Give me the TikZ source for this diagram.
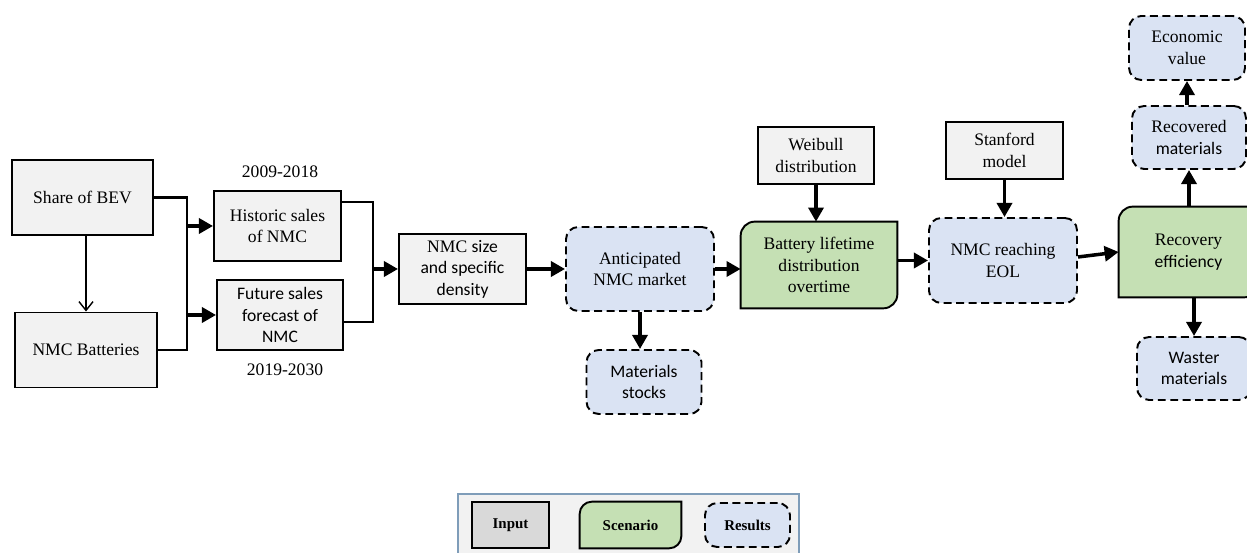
\documentclass[tikz,border=0pt]{standalone}
\usepackage{fontspec}
\setmainfont{Liberation Serif}
\newfontfamily\calibri{Carlito}
\usepackage{tikz}
\usetikzlibrary{calc, arrows.meta, backgrounds}

\definecolor{inputgray}{HTML}{F2F2F2}
\definecolor{legendgray}{HTML}{D9D9D9}
\definecolor{scengreen}{HTML}{C5E0B4}
\definecolor{resblue}{HTML}{DAE3F3}
\definecolor{framegray}{HTML}{7F9DB9}

\tikzset{
  base/.style={align=center, inner sep=1pt, font=\fontsize{10}{12.3}\selectfont},
  inbox/.style={base, draw, line width=1.1pt, fill=inputgray},
  resbox/.style={base, draw, line width=1.1pt, dash pattern=on 4.5pt off 2.6pt, rounded corners=7pt, fill=resblue},
  scenbox/.style={base},
  flow/.style={line width=2pt, -{Triangle[length=8pt, width=8.5pt]}},
  bus/.style={line width=1.2pt}
}

% scenario box: rounded top left and bottom right only
\newcommand{\scenshape}[2][8pt]{%
  \begin{scope}[on background layer]
    \draw[line width=1.1pt, fill=scengreen]
      (#2.south west) -- ($(#2.north west)+(0,-#1)$)
      arc[start angle=180, end angle=90, radius=#1] -- (#2.north east)
      -- ($(#2.south east)+(0,#1)$)
      arc[start angle=0, end angle=-90, radius=#1] -- cycle;
  \end{scope}}

\begin{document}
\begin{tikzpicture}[>=Latex]
    \useasboundingbox (0,0) rectangle (24.94,11.06);
    \clip (0,0) rectangle (24.94,11.06);

    % --- INPUTS (LEFT) ---
    \node[inbox, minimum width=2.82cm, minimum height=1.5cm] (bev) at (1.65,7.11) {Share of BEV};
    \node[inbox, minimum width=2.84cm, minimum height=1.5cm] (nmcbat) at (1.72,4.06) {NMC Batteries};
    \node[inbox, minimum width=2.54cm, minimum height=1.4cm] (hist) at (5.55,6.54) {Historic sales\\of NMC};
    \node[inbox, minimum width=2.52cm, minimum height=1.4cm, font=\calibri\fontsize{10}{12.3}\selectfont] (fut) at (5.60,4.76) {Future sales\\forecast of\\NMC};
    \node[base] (yrold) at (5.60,7.62) {2009-2018};
    \node[base] (yrnew) at (5.70,3.66) {2019-2030};
    \node[inbox, minimum width=2.54cm, minimum height=1.4cm] (size) at (9.25,5.68) {NMC {\calibri size}\\{\calibri and specific}\\{\calibri density}};

    % --- MARKET AND LIFETIME ---
    \node[resbox, minimum width=2.96cm, minimum height=1.68cm] (antic) at (12.80,5.68) {Anticipated\\NMC market};
    \node[resbox, minimum width=2.30cm, minimum height=1.28cm, font=\calibri\fontsize{10}{12.3}\selectfont] (stocks) at (12.88,3.42) {Materials\\stocks};
    \node[inbox, minimum width=2.32cm, minimum height=1.14cm] (weib) at (16.32,7.95) {Weibull\\distribution};
    \node[scenbox, minimum width=3.12cm, minimum height=1.72cm] (life) at (16.38,5.76) {Battery lifetime\\distribution\\overtime};
    \scenshape{life}

    % --- END OF LIFE (RIGHT) ---
    \node[inbox, minimum width=2.34cm, minimum height=1.14cm] (stan) at (20.09,8.05) {Stanford\\model};
    \node[resbox, minimum width=2.96cm, minimum height=1.70cm] (eol) at (20.06,5.85) {NMC reaching\\EOL};
    \node[scenbox, minimum width=2.78cm, minimum height=1.80cm] (recov) at (23.77,6.02) {Recovery\\{\calibri efficiency}};
    \scenshape{recov}
    \node[resbox, minimum width=2.28cm, minimum height=1.26cm] (recd) at (23.78,8.31) {Recovered\\{\calibri materials}};
    \node[resbox, minimum width=2.32cm, minimum height=1.28cm] (econ) at (23.74,10.10) {Economic\\value};
    \node[resbox, minimum width=2.28cm, minimum height=1.26cm, font=\calibri\fontsize{10}{12.3}\selectfont] (waste) at (23.88,3.69) {Waster\\materials};

    % --- CONNECTORS ---
    % bus from the two inputs
    \coordinate (busL) at (3.74,0);
    \draw[bus] (bev.east) -| (busL |- nmcbat.east) -- (nmcbat.east);
    \draw[flow] (busL |- hist.west) -- (hist.west);
    \draw[flow] (busL |- fut.west) -- (fut.west);
    \draw[line width=0.8pt, -{Straight Barb[length=5pt, width=8pt]}] (nmcbat.north |- bev.south) -- (nmcbat.north);

    % bus from the sales boxes
    \coordinate (busR) at (7.46,0);
    \coordinate (histout) at ($(hist.north east)!0.17!(hist.south east)$);
    \coordinate (futout) at ($(fut.north east)!0.6!(fut.south east)$);
    \draw[bus] (histout) -| (busR |- futout) -- (futout);
    \draw[flow] (busR |- size.west) -- (size.west);

    % main chain
    \draw[flow] (size.east) -- (size.east -| antic.west);
    \draw[flow] (antic.east) -- (antic.east -| life.west);
    \draw[flow] (antic.south) -- (antic.south |- stocks.north);
    \draw[flow] (weib.south) -- (weib.south |- life.north);
    \draw[flow] (eol.west -| life.east) -- (eol.west);
    \draw[flow] (stan.south) -- (stan.south |- eol.north);
    \draw[flow] ([yshift=2pt]eol.east) -- (recov.west);
    \draw[flow] (recov.north -| recd.south) -- (recd.south);
    \draw[flow] (recd.north -| econ.south) -- (econ.south);
    \draw[flow] (recov.south -| waste.north) -- (waste.north);

    % --- LEGEND ---
    \begin{scope}[on background layer]
      \draw[framegray, line width=1pt, fill=inputgray] (9.16,-0.3) rectangle (15.98,1.18);
    \end{scope}
    \node[inbox, fill=legendgray, minimum width=1.54cm, minimum height=0.92cm, font=\bfseries\fontsize{8.5}{10}\selectfont] (leginput) at (10.21,0.56) {Input};
    \node[scenbox, minimum width=2.02cm, minimum height=0.92cm, font=\bfseries\fontsize{8.5}{10}\selectfont] (legscen) at (12.61,0.56) {Scenario};
    \scenshape[7pt]{legscen}
    \node[resbox, minimum width=1.70cm, minimum height=0.88cm, font=\bfseries\fontsize{8.5}{10}\selectfont] (legres) at (14.95,0.56) {Results};
\end{tikzpicture}
\end{document}
